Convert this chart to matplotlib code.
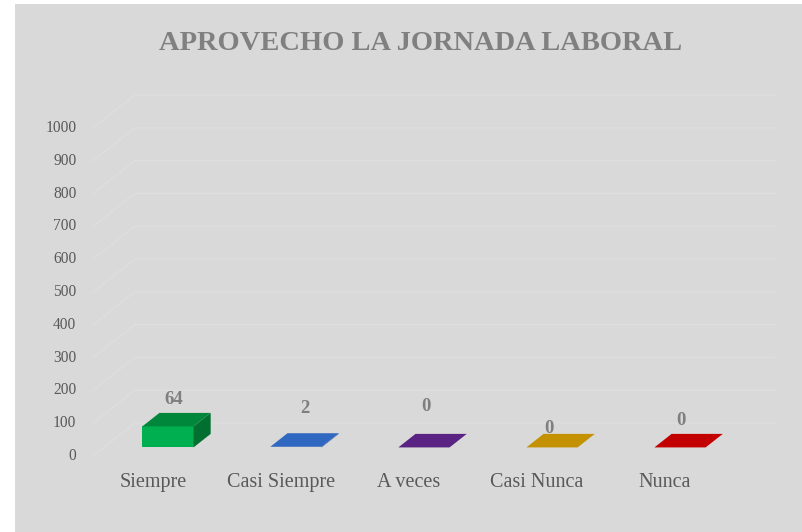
import numpy as np
import matplotlib
matplotlib.use("Agg")
import matplotlib.pyplot as plt
from matplotlib.patches import Polygon, Rectangle

# chart data
categories = ["Siempre", "Casi Siempre", "A veces", "Casi Nunca", "Nunca"]
values = [64, 2, 0, 0, 0]
y_ticks = list(range(0, 1001, 100))
title = "APROVECHO LA JORNADA LABORAL"

front_colors = ["#00b050", "#3067c0", "#5a2283", "#c49102", "#c20000"]
top_colors = ["#00873c", "#3067c0", "#5a2283", "#c49102", "#c20000"]
side_colors = ["#006f30", "#24509a", "#461a66", "#9a7202", "#980000"]

# fake 3d: depth 1 shifts by DX categories and DY value units
DX = 42 / 128.5
DY = 100.6
BAR_W = 0.4
Z0, Z1 = 0.26, 0.67
GRID = "#dedede"
TXT = "#595959"
SERIF = ["Liberation Serif", "DejaVu Serif"]

# label nudges in pixels (Excel placed them unevenly)
lab_dx = [-3, 0, -7, -12, -8]
lab_dy = [20, 32, 34, 12, 20]

fig = plt.figure(figsize=(8.03, 5.32), dpi=100)
fig.patch.set_facecolor("white")
fig.patches.append(Rectangle((15 / 803, 0), 1, 1 - 4 / 532, transform=fig.transFigure,
                             facecolor="#d9d9d9", edgecolor="none", zorder=-10))

ax = fig.add_axes([93 / 803, 76 / 532, 682 / 803, 361 / 532])
ax.set_xlim(-0.5, len(categories) - 0.5 + DX)
ax.set_ylim(0, 1000 + DY)
ax.axis("off")


def pt(x, y, z):
    return (x + z * DX, y + z * DY)


# gridlines: diagonal on side wall, then along back wall
x0, x1 = -0.5, len(categories) - 0.5
for v in y_ticks:
    xs = [x0, x0 + DX, x1 + DX]
    ys = [v, v + DY, v + DY]
    ax.plot(xs, ys, color=GRID, lw=1.0, zorder=1, clip_on=False)
    ax.text(-0.5 - 0.13, v, str(v), ha="right", va="center", fontsize=11.2,
            color=TXT, family=SERIF)

for i, (cat, v) in enumerate(zip(categories, values)):
    l, r = i - BAR_W / 2, i + BAR_W / 2
    front = [pt(l, 0, Z0), pt(r, 0, Z0), pt(r, v, Z0), pt(l, v, Z0)]
    top = [pt(l, v, Z0), pt(r, v, Z0), pt(r, v, Z1), pt(l, v, Z1)]
    side = [pt(r, 0, Z0), pt(r, 0, Z1), pt(r, v, Z1), pt(r, v, Z0)]
    if v > 0:
        ax.add_patch(Polygon(front, closed=True, fc=front_colors[i], ec="none", zorder=3))
        ax.add_patch(Polygon(side, closed=True, fc=side_colors[i], ec="none", zorder=3))
    ax.add_patch(Polygon(top, closed=True, fc=top_colors[i], ec="none", zorder=3))

    cx, cy = pt(i, v, (Z0 + Z1) / 2)
    ax.annotate(str(v), (cx, cy), xytext=(lab_dx[i] * 0.72, lab_dy[i] * 0.72),
                textcoords="offset points", ha="center", va="center",
                fontsize=13.5, fontweight="bold", color="#7f7f7f", family=SERIF,
                zorder=4)

    ax.annotate(cat, (i, 0), xytext=(-3, -19), textcoords="offset points",
                ha="center", va="center", fontsize=14.5, color=TXT, family=SERIF)

fig.text(421 / 803, 1 - 43 / 532, title, ha="center", va="center", fontsize=20.5,
         fontweight="bold", color="#808080", family=SERIF)

fig.savefig("out.png", dpi=100, facecolor=fig.get_facecolor())
